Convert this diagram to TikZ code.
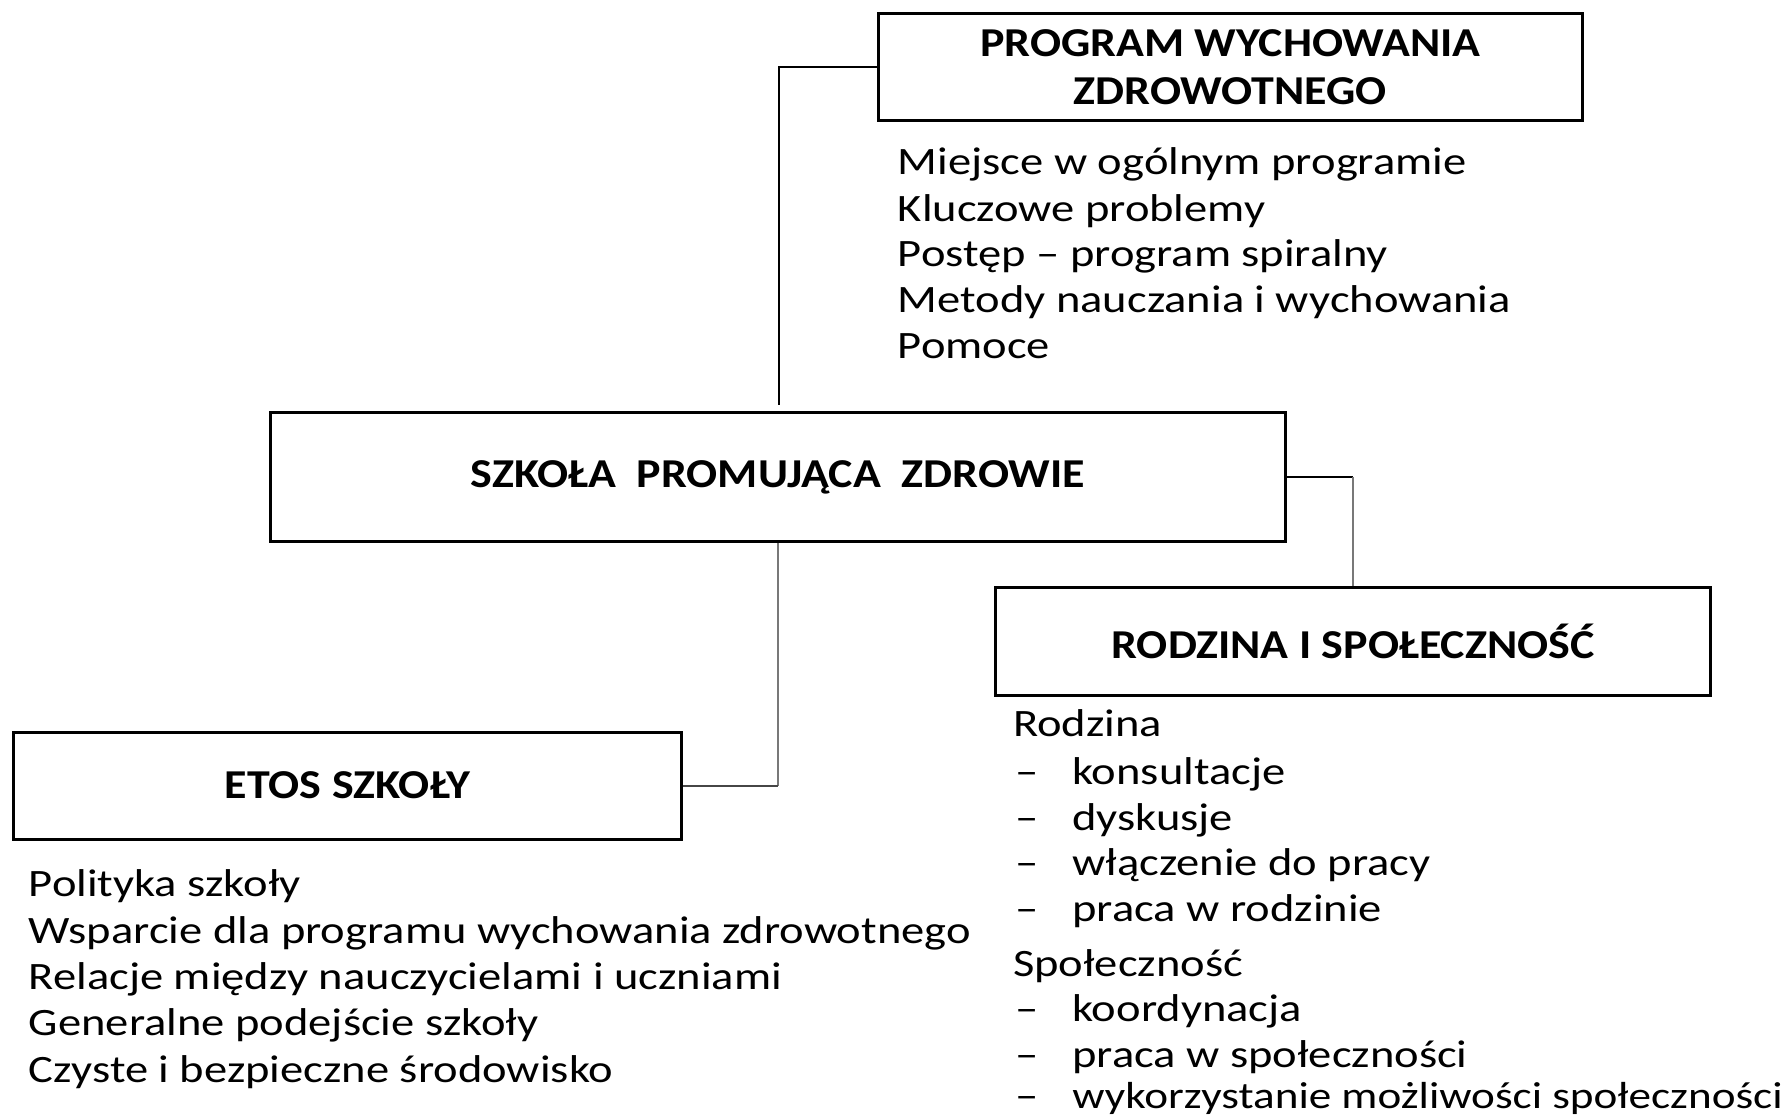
\documentclass[tikz,border=0pt]{standalone}
\usepackage{fontspec}
\setmainfont{Carlito}
\newfontfamily\bodyfont[FakeStretch=1.2]{Carlito}
\newfontfamily\headfont[FakeStretch=1.12]{Carlito}
\definecolor{lgray}{RGB}{120,120,120}
\definecolor{dgray}{RGB}{70,70,70}
\begin{document}
\begin{tikzpicture}[x=0.5pt,y=-0.5pt,
  box/.style={draw=black, line width=1.3pt, inner sep=0pt, align=center,
    font=\headfont\fontsize{18}{21}\selectfont\bfseries},
  item/.style={anchor=base west, inner sep=0pt, font=\bodyfont\fontsize{17}{20}\selectfont},
  conn/.style={line width=1pt}]
\useasboundingbox (0,0) rectangle (1568,978);
\fill[white] (0,0) rectangle (1568,978);

\node[box, minimum width=309pt, minimum height=47pt] (top) at (1079,59) {PROGRAM WYCHOWANIA\\ZDROWOTNEGO};
\node[box, minimum width=445pt, minimum height=56.5pt] (main) at (682,418.5) {SZKOŁA\ \ PROMUJĄCA\ \ ZDROWIE};
\node[box, minimum width=293pt, minimum height=47pt] (etos) at (305,689) {ETOS SZKOŁY};
\node[box, minimum width=313.5pt, minimum height=47.5pt] (rod) at (1186.5,562.5) {RODZINA I SPOŁECZNOŚĆ};

% top list
\node[item] (t1) at (787,153) {Miejsce w ogólnym programie};
\node[item] (t2) at (787,194) {Kluczowe problemy};
\node[item] (t3) at (787,234) {Postęp – program spiralny};
\node[item] (t4) at (787,274) {Metody nauczania i wychowania};
\node[item] (t5) at (787,314) {Pomoce};

% etos list
\node[item] (e1) at (25,786) {Polityka szkoły};
\node[item] (e2) at (25,827) {Wsparcie dla programu wychowania zdrowotnego};
\node[item] (e3) at (25,868) {Relacje między nauczycielami i uczniami};
\node[item] (e4) at (25,908) {Generalne podejście szkoły};
\node[item] (e5) at (25,949) {Czyste i bezpieczne środowisko};

% right list
\node[item] (r0) at (888,646) {Rodzina};
\node[item] (d1) at (890,688) {–};
\node[item] (r1) at (940,688) {konsultacje};
\node[item] (d2) at (890,728) {–};
\node[item] (r2) at (940,728) {dyskusje};
\node[item] (d3) at (890,768) {–};
\node[item] (r3) at (940,768) {włączenie do pracy};
\node[item] (d4) at (890,808) {–};
\node[item] (r4) at (940,808) {praca w rodzinie};
\node[item] (s0) at (888,856) {Społeczność};
\node[item] (d5) at (890,896) {–};
\node[item] (s1) at (940,896) {koordynacja};
\node[item] (d6) at (890,936) {–};
\node[item] (s2) at (940,936) {praca w społeczności};
\node[item] (d7) at (890,972) {–};
\node[item, font=\bodyfont\fontsize{16.5}{20}\selectfont] (s3) at (940,972) {wykorzystanie możliwości społeczności};

% connectors
\coordinate (tEnd) at (683,355);
\draw[conn] (top.west) -| (tEnd);
\coordinate (eCorner) at (main.south |- etos.east);
\draw[conn, lgray] (main.south) -- (eCorner);
\draw[conn, dgray] (eCorner) -- (etos.east);
\coordinate (rCorner) at (main.east -| rod.north);
\draw[conn] (main.east) -- (rCorner);
\draw[conn, lgray] (rCorner) -- (rod.north);
\end{tikzpicture}
\end{document}
